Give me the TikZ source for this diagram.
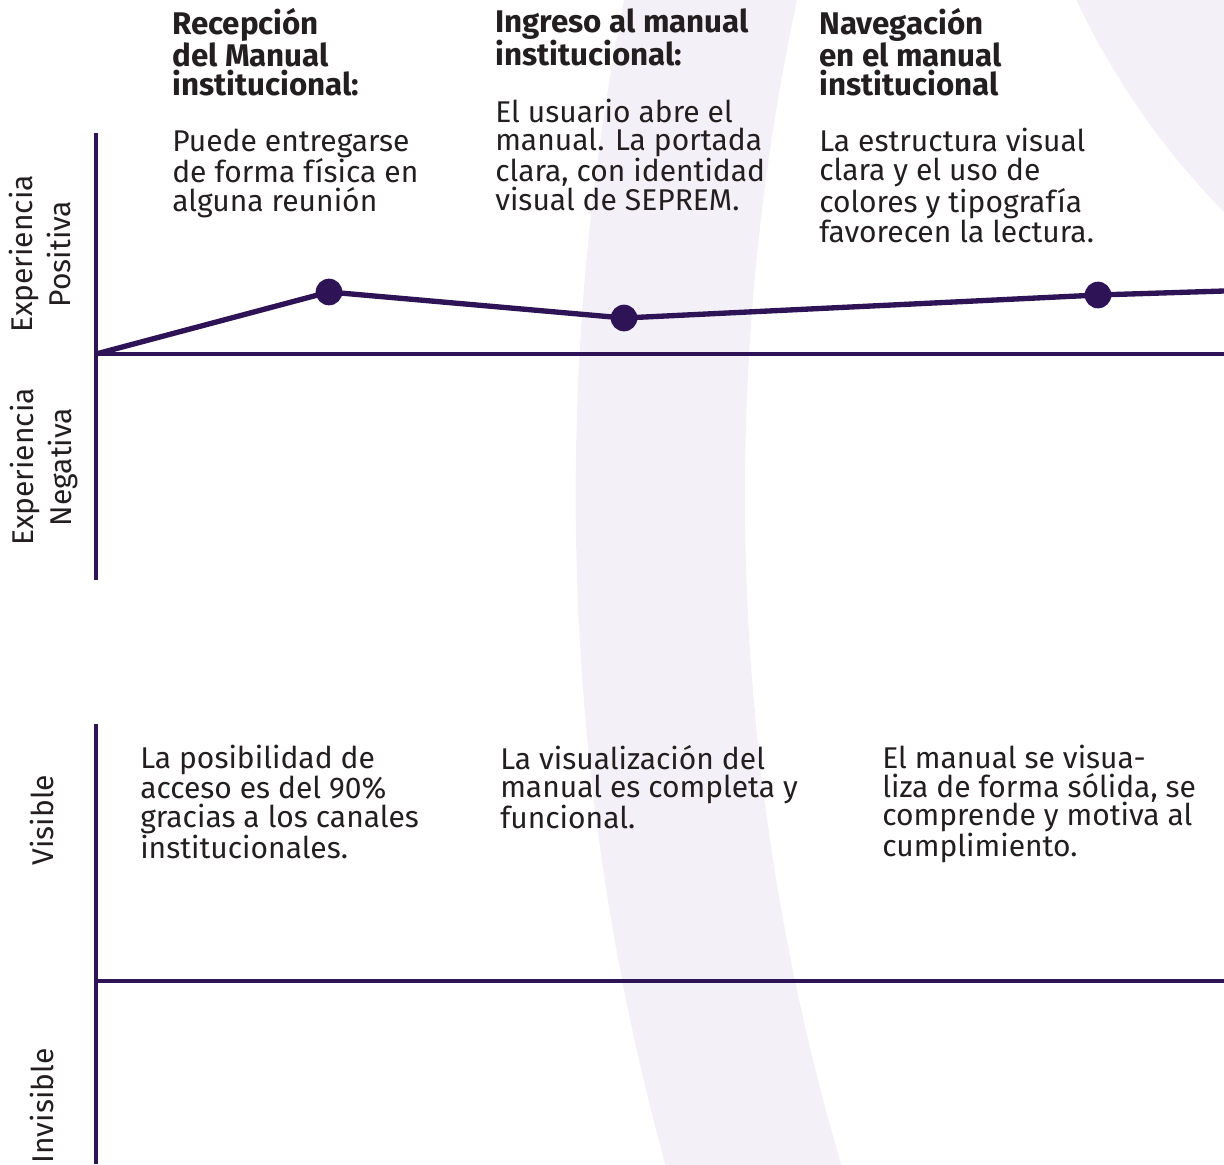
\documentclass[tikz,border=0pt]{standalone}
\usepackage{fontspec}
\setmainfont{Fira Sans}
\usepackage{xcolor}
\usepackage{tikz}
\usetikzlibrary{positioning}

\definecolor{journey}{HTML}{2E1456}
\definecolor{ringbg}{HTML}{F3F1F7}
\definecolor{ink}{HTML}{231F20}

\tikzset{
  axis/.style={draw=journey, line width=3.5pt},
  curve/.style={draw=journey, line width=4pt, line join=round},
  stage/.style={circle, fill=journey, minimum size=20pt, inner sep=0pt},
  heading/.style={anchor=north west, inner sep=0pt, align=left, text=ink,
    font=\fontsize{23.5pt}{21.75pt}\selectfont\bfseries},
  note/.style={inner sep=0pt, align=left, text=ink,
    font=\fontsize{22.5pt}{21.4pt}\selectfont},
  sidelabel/.style={rotate=90, inner sep=0pt, align=center, text=ink,
    font=\fontsize{22.5pt}{28pt}\selectfont}
}

\begin{document}
\begin{tikzpicture}[x=0.75pt, y=-0.75pt]
\useasboundingbox (0,0) rectangle (1224,1164);

% background ring
\begin{scope}
  \clip (0,0) rectangle (1224,1164);
  \fill[ringbg, even odd rule] (3105,495) circle[radius=1897pt] (3105,495) circle[radius=1770pt];
  \fill[ringbg] (1772,-326) circle[radius=576pt];
\end{scope}

% upper chart
\coordinate (top1) at (96,133);
\coordinate (bot1) at (96,580);
\coordinate (origin) at (96,354);
\coordinate (end1) at (1224,354);
\draw[axis] (top1) -- (bot1);
\draw[axis] (origin) -- (end1);

\node[stage] (recepcion) at (329,292) {};
\node[stage] (ingreso) at (624,318) {};
\node[stage] (navegacion) at (1098,295) {};
\coordinate (pend) at (1224,291);
\draw[curve] (origin) -- (recepcion.center) -- (ingreso.center) -- (navegacion.center) -- (pend);

\node[sidelabel] (pos) at (40,254) {Experiencia\\Positiva};
\node[sidelabel] (neg) at (44,467) {Experiencia\\Negativa};

\node[heading] (head1) at (172,8) {Recepción\\del Manual\\institucional:};
\node[heading] (head2) at (495,8) {Ingreso al manual\\institucional:};
\node[heading] (head3) at (819,8) {Navegación\\en el manual\\institucional};

\node[note, below right=24pt and 0pt of head1.south west] (body1) {Puede entregarse\\de forma física en\\alguna reunión};
\node[note, below right=24pt and 0pt of head2.south west] (body2) {El usuario abre el\\manual. La portada\\clara, con identidad\\visual de SEPREM.};
\node[note, below right=24pt and 0pt of head3.south west] (body3) {La estructura visual\\clara y el uso de\\colores y tipografía\\favorecen la lectura.};

% lower chart
\coordinate (top2) at (96,724);
\coordinate (bot2) at (96,1164);
\coordinate (split) at (96,981);
\coordinate (end2) at (1224,981);
\draw[axis] (top2) -- (bot2);
\draw[axis] (split) -- (end2);

\node[sidelabel] (vis) at (42,820) {Visible};
\node[sidelabel] (invis) at (42,1106) {Invisible};

\node[note, anchor=north west] (vis1) at (140,745) {La posibilidad de\\acceso es del 90\%\\gracias a los canales\\institucionales.};
\node[note, anchor=north west] (vis2) at (500,745) {La visualización del\\manual es completa y\\funcional.};
\node[note, anchor=north west] (vis3) at (882,745) {El manual se visua-\\liza de forma sólida, se\\comprende y motiva al\\cumplimiento.};
\end{tikzpicture}
\end{document}
